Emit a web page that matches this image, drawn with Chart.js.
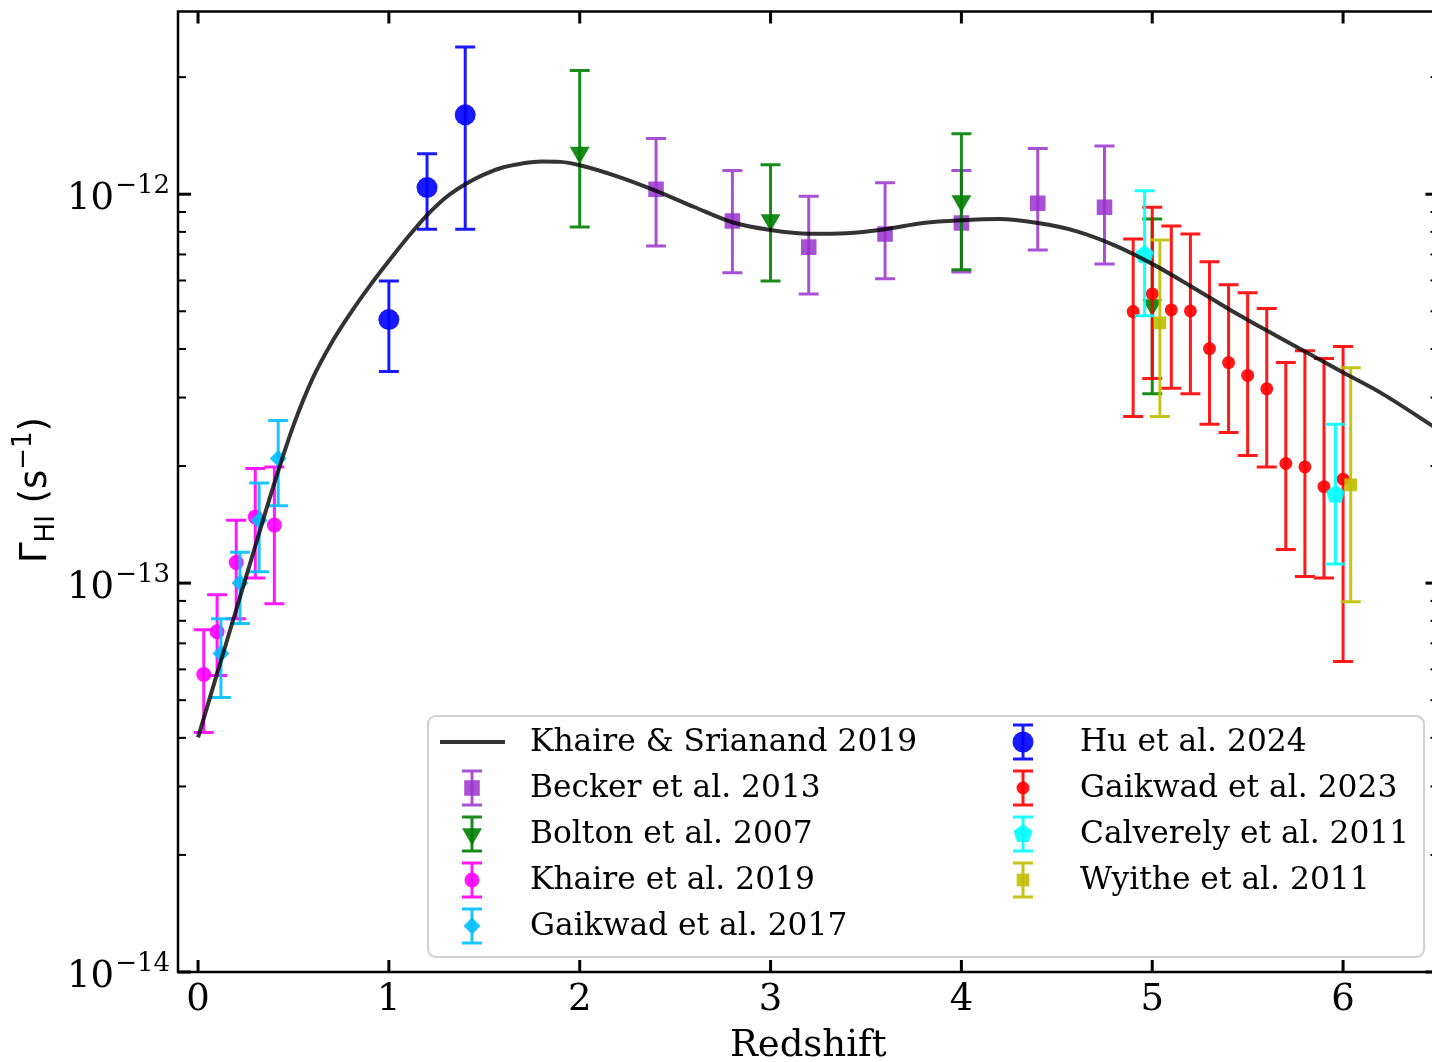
<!DOCTYPE html>
<html>
<head>
<meta charset="utf-8">
<script src="https://cdn.jsdelivr.net/npm/chart.js@4.4.1/dist/chart.umd.min.js"></script>
<style>
  html, body { margin: 0; padding: 0; background: #fff; overflow: hidden; }
  #wrap { width: 1432px; height: 1062px; overflow: hidden; }
</style>
</head>
<body>
<div id="wrap"><canvas id="myChart" width="1450" height="1062"></canvas></div>
<script>
// HI photo-ionization rate vs redshift: UVB model curve + measurements

// model curve (Khaire & Srianand 2019)
const modelZ = [0, 0.1, 0.2, 0.3, 0.4, 0.5, 0.6, 0.7, 0.8, 0.9, 1.0, 1.1, 1.2, 1.3, 1.4, 1.5, 1.6, 1.7, 1.8, 1.9, 2.0,
  2.2, 2.4, 2.6, 2.8, 3.0, 3.2, 3.4, 3.6, 3.8, 4.0, 4.2, 4.4, 4.6, 4.8, 5.0, 5.2, 5.4, 5.6, 5.8, 6.0, 6.2, 6.5];
const modelRate = [4.01e-14, 5.86e-14, 8.54e-14, 1.246e-13, 1.807e-13, 2.544e-13, 3.357e-13, 4.152e-13, 4.956e-13, 5.812e-13,
  6.735e-13, 7.76e-13, 8.835e-13, 9.824e-13, 1.061e-12, 1.125e-12, 1.173e-12, 1.200e-12, 1.214e-12, 1.211e-12, 1.187e-12,
  1.11e-12, 1.02e-12, 9.27e-13, 8.47e-13, 8.09e-13, 7.91e-13, 7.94e-13, 8.13e-13, 8.43e-13, 8.57e-13, 8.63e-13,
  8.43e-13, 8.04e-13, 7.40e-13, 6.62e-13, 5.81e-13, 5.07e-13, 4.46e-13, 3.94e-13, 3.48e-13, 3.08e-13, 2.48e-13];

const beckerZ = [2.4, 2.8, 3.2, 3.6, 4.0, 4.4, 4.75];
const beckerRate = [1.03e-12, 8.53e-13, 7.31e-13, 7.90e-13, 8.43e-13, 9.48e-13, 9.26e-13];
const beckerLo = [7.36e-13, 6.28e-13, 5.54e-13, 6.06e-13, 6.31e-13, 7.19e-13, 6.62e-13];
const beckerHi = [1.39e-12, 1.15e-12, 9.88e-13, 1.07e-12, 1.15e-12, 1.31e-12, 1.33e-12];

const boltonZ = [2.0, 3.0, 4.0, 5.0];
const boltonRate = [1.28e-12, 8.58e-13, 9.60e-13, 5.19e-13];
const boltonLo = [8.23e-13, 5.98e-13, 6.39e-13, 3.07e-13];
const boltonHi = [2.08e-12, 1.19e-12, 1.43e-12, 8.63e-13];

const khaireZ = [0.03, 0.1, 0.2, 0.3, 0.4];
const khaireRate = [5.82e-14, 7.50e-14, 1.13e-13, 1.48e-13, 1.41e-13];
const khaireLo = [4.13e-14, 5.79e-14, 8.10e-14, 1.03e-13, 8.85e-14];
const khaireHi = [7.59e-14, 9.33e-14, 1.45e-13, 1.97e-13, 1.99e-13];

const gaik17Z = [0.12, 0.22, 0.32, 0.42];
const gaik17Rate = [6.59e-14, 1.00e-13, 1.45e-13, 2.09e-13];
const gaik17Lo = [5.08e-14, 7.87e-14, 1.07e-13, 1.58e-13];
const gaik17Hi = [8.10e-14, 1.20e-13, 1.81e-13, 2.62e-13];

const huZ = [1.0, 1.2, 1.4];
const huRate = [4.76e-13, 1.04e-12, 1.60e-12];
const huLo = [3.50e-13, 8.13e-13, 8.13e-13];
const huHi = [5.98e-13, 1.27e-12, 2.39e-12];

const gaik23Z = [4.9, 5.0, 5.1, 5.2, 5.3, 5.4, 5.5, 5.6, 5.7, 5.8, 5.9, 6.0];
const gaik23Rate = [4.99e-13, 5.54e-13, 5.04e-13, 5.01e-13, 4.01e-13, 3.69e-13, 3.42e-13, 3.16e-13, 2.03e-13, 1.99e-13, 1.77e-13, 1.85e-13];
const gaik23Lo = [2.68e-13, 3.36e-13, 3.17e-13, 3.07e-13, 2.56e-13, 2.44e-13, 2.13e-13, 1.99e-13, 1.22e-13, 1.04e-13, 1.03e-13, 6.29e-14];
const gaik23Hi = [7.67e-13, 9.26e-13, 8.28e-13, 7.90e-13, 6.70e-13, 5.85e-13, 5.58e-13, 5.08e-13, 3.69e-13, 3.96e-13, 3.78e-13, 4.06e-13];

const calvZ = [4.96, 5.96];
const calvRate = [6.98e-13, 1.69e-13];
const calvLo = [4.87e-13, 1.12e-13];
const calvHi = [1.02e-12, 2.56e-13];

const wyitheZ = [5.04, 6.04];
const wyitheRate = [4.67e-13, 1.79e-13];
const wyitheLo = [2.68e-13, 8.96e-14];
const wyitheHi = [7.62e-13, 3.58e-13];

const xTicks = [0, 1, 2, 3, 4, 5, 6];
const yExponents = [-14, -13, -12];

const SERIF = '"DejaVu Serif", serif';
const SANS = '"DejaVu Sans", sans-serif';

// pentagon marker (not a built-in point style)
function makePentagon(r, color) {
  const c = document.createElement('canvas');
  c.width = c.height = Math.ceil(r * 2 + 2);
  const g = c.getContext('2d');
  g.fillStyle = color;
  g.beginPath();
  for (let k = 0; k < 5; k++) {
    const ang = -Math.PI / 2 + k * 2 * Math.PI / 5;
    const px = c.width / 2 + r * Math.cos(ang), py = c.height / 2 + r * Math.sin(ang);
    k ? g.lineTo(px, py) : g.moveTo(px, py);
  }
  g.closePath();
  g.fill();
  return c;
}

function pts(zs, vals) {
  return zs.map((z, i) => ({ x: z, y: vals[i] }));
}

function errSeries(label, zs, vals, lo, hi, color, style, radius, order, rotation) {
  return {
    type: 'scatter',
    label: label,
    data: pts(zs, vals),
    errLow: lo,
    errHigh: hi,
    backgroundColor: color,
    borderColor: color,
    borderWidth: 0,
    pointStyle: style,
    pointRadius: radius,
    pointRotation: rotation || 0,
    order: order
  };
}

const pentagon = makePentagon(10, 'rgba(0,255,255,0.9)');

const datasets = [
  {
    type: 'line',
    label: 'Khaire & Srianand 2019',
    data: pts(modelZ, modelRate),
    borderColor: 'rgba(0,0,0,0.8)',
    borderWidth: 4,
    pointRadius: 0,
    fill: false,
    cubicInterpolationMode: 'monotone',
    order: 0
  },
  errSeries('Becker et al. 2013', beckerZ, beckerRate, beckerLo, beckerHi, 'rgba(153,50,204,0.85)', 'rect', 11, 8),
  errSeries('Bolton et al. 2007', boltonZ, boltonRate, boltonLo, boltonHi, 'rgba(0,128,0,0.9)', 'triangle', 11.5, 7, 180),
  errSeries('Khaire et al. 2019', khaireZ, khaireRate, khaireLo, khaireHi, 'rgba(255,0,255,0.9)', 'circle', 7.5, 6),
  errSeries('Gaikwad et al. 2017', gaik17Z, gaik17Rate, gaik17Lo, gaik17Hi, 'rgba(0,191,255,0.9)', 'rectRot', 8.5, 5),
  errSeries('Hu et al. 2024', huZ, huRate, huLo, huHi, 'rgba(0,0,255,0.9)', 'circle', 10.5, 4),
  errSeries('Gaikwad et al. 2023', gaik23Z, gaik23Rate, gaik23Lo, gaik23Hi, 'rgba(255,0,0,0.9)', 'circle', 6.5, 3),
  errSeries('Calverely et al. 2011', calvZ, calvRate, calvLo, calvHi, 'rgba(0,255,255,0.9)', pentagon, 10, 2),
  errSeries('Wyithe et al. 2011', wyitheZ, wyitheRate, wyitheLo, wyitheHi, 'rgba(191,191,0,0.9)', 'rect', 9, 1)
];

// vertical error bars with caps, drawn just under each dataset's markers
const errorBars = {
  id: 'errorBars',
  beforeDatasetDraw(chart, args) {
    const ds = chart.data.datasets[args.index];
    if (!ds.errLow) return;
    const { ctx, chartArea: a } = chart;
    const xs = args.meta.xScale, ys = args.meta.yScale;
    ctx.save();
    ctx.beginPath();
    ctx.rect(a.left, a.top, a.right - a.left, a.bottom - a.top);
    ctx.clip();
    ctx.strokeStyle = ds.borderColor;
    ctx.lineWidth = 3;
    ctx.beginPath();
    ds.data.forEach((p, i) => {
      const px = xs.getPixelForValue(p.x);
      const top = ys.getPixelForValue(ds.errHigh[i]);
      const bot = ys.getPixelForValue(ds.errLow[i]);
      ctx.moveTo(px, top); ctx.lineTo(px, bot);
      ctx.moveTo(px - 10, top); ctx.lineTo(px + 10, top);
      ctx.moveTo(px - 10, bot); ctx.lineTo(px + 10, bot);
    });
    ctx.stroke();
    ctx.restore();
  }
};

// box, inward ticks, tick labels and axis titles
const frame = {
  id: 'frame',
  afterDatasetsDraw(chart) {
    const { ctx, chartArea: a, scales: { x, y } } = chart;
    const seg = (x1, y1, x2, y2) => { ctx.beginPath(); ctx.moveTo(x1, y1); ctx.lineTo(x2, y2); ctx.stroke(); };
    ctx.save();
    ctx.strokeStyle = '#000';

    ctx.lineWidth = 3;
    xTicks.forEach(v => {
      const px = x.getPixelForValue(v);
      seg(px, a.bottom, px, a.bottom - 12);
      seg(px, a.top, px, a.top + 12);
    });
    yExponents.forEach(e => {
      const py = y.getPixelForValue(Math.pow(10, e));
      seg(a.left, py, a.left + 13, py);
      seg(a.right, py, a.right - 13, py);
    });
    ctx.lineWidth = 2;
    yExponents.forEach(e => {
      for (let m = 2; m <= 9; m++) {
        const v = m * Math.pow(10, e);
        if (v > y.max) break;
        const py = y.getPixelForValue(v);
        seg(a.left, py, a.left + 8, py);
        seg(a.right, py, a.right - 8, py);
      }
    });

    ctx.lineWidth = 2.5;
    ctx.strokeRect(a.left, a.top, a.right - a.left, a.bottom - a.top);

    // tick labels
    ctx.fillStyle = '#000';
    ctx.font = '37px ' + SERIF;
    ctx.textAlign = 'center';
    ctx.textBaseline = 'alphabetic';
    xTicks.forEach(v => ctx.fillText(String(v), x.getPixelForValue(v), 1010));

    yExponents.forEach(e => {
      const py = y.getPixelForValue(Math.pow(10, e));
      const sup = '\u2212' + Math.abs(e);
      ctx.font = '26px ' + SERIF;
      const sw = ctx.measureText(sup).width;
      ctx.textAlign = 'right';
      ctx.fillText(sup, 170, py - 1);
      ctx.font = '37px ' + SERIF;
      ctx.fillText('10', 170 - sw - 1, py + 15);
    });

    // x title
    ctx.font = '37px ' + SERIF;
    ctx.textAlign = 'center';
    ctx.fillText('Redshift', (a.left + a.right) / 2, 1056);

    // y title: Γ_HI (s^-1)
    ctx.translate(46, 490);
    ctx.rotate(-Math.PI / 2);
    const parts = [
      { t: '\u0393', f: '37px ' + SANS, dy: 0 },
      { t: 'HI', f: '26px ' + SANS, dy: 8 },
      { t: ' (s', f: '37px ' + SANS, dy: 0 },
      { t: '\u22121', f: '26px ' + SANS, dy: -15 },
      { t: ')', f: '37px ' + SANS, dy: 0 }
    ];
    let total = 0;
    parts.forEach(p => { ctx.font = p.f; p.w = ctx.measureText(p.t).width; total += p.w; });
    let cx = -total / 2;
    ctx.textAlign = 'left';
    parts.forEach(p => { ctx.font = p.f; ctx.fillText(p.t, cx, p.dy); cx += p.w; });
    ctx.restore();
  }
};

function drawMarker(ctx, style, x, y, r, rotation) {
  ctx.beginPath();
  if (style instanceof HTMLCanvasElement) {
    ctx.drawImage(style, x - style.width / 2, y - style.height / 2);
    return;
  }
  if (style === 'circle') {
    ctx.arc(x, y, r, 0, Math.PI * 2);
  } else if (style === 'rect') {
    const s = r * Math.SQRT1_2;
    ctx.rect(x - s, y - s, 2 * s, 2 * s);
  } else if (style === 'rectRot') {
    ctx.moveTo(x, y - r); ctx.lineTo(x + r, y); ctx.lineTo(x, y + r); ctx.lineTo(x - r, y);
  } else if (style === 'triangle') {
    const rad = (rotation || 0) * Math.PI / 180;
    for (let k = 0; k < 3; k++) {
      const ang = rad + k * 2 * Math.PI / 3;
      const px = x + Math.sin(ang) * r, py = y - Math.cos(ang) * r;
      k ? ctx.lineTo(px, py) : ctx.moveTo(px, py);
    }
  }
  ctx.closePath();
  ctx.fill();
}

// two-column legend with error-bar handles
const legendBox = {
  id: 'legendBox',
  afterDraw(chart) {
    const { ctx } = chart;
    const dsets = chart.data.datasets;
    const box = { x: 428, y: 716, w: 996, h: 241, r: 8 };
    const rows = [742, 788, 834, 880, 926];
    const cols = [{ mark: 472, text: 530 }, { mark: 1023, text: 1080 }];
    ctx.save();
    ctx.beginPath();
    ctx.roundRect(box.x, box.y, box.w, box.h, box.r);
    ctx.fillStyle = 'rgba(255,255,255,0.8)';
    ctx.fill();
    ctx.strokeStyle = '#d0d0d0';
    ctx.lineWidth = 2;
    ctx.stroke();

    dsets.forEach((ds, i) => {
      const col = cols[i < 5 ? 0 : 1];
      const yy = rows[i < 5 ? i : i - 5];
      if (!ds.errLow) {
        ctx.strokeStyle = ds.borderColor;
        ctx.lineWidth = 4;
        ctx.beginPath();
        ctx.moveTo(col.mark - 32, yy); ctx.lineTo(col.mark + 33, yy);
        ctx.stroke();
      } else {
        ctx.strokeStyle = ds.borderColor;
        ctx.lineWidth = 3;
        ctx.beginPath();
        ctx.moveTo(col.mark, yy - 17); ctx.lineTo(col.mark, yy + 17);
        ctx.moveTo(col.mark - 10, yy - 17); ctx.lineTo(col.mark + 10, yy - 17);
        ctx.moveTo(col.mark - 10, yy + 17); ctx.lineTo(col.mark + 10, yy + 17);
        ctx.stroke();
        ctx.fillStyle = ds.backgroundColor;
        drawMarker(ctx, ds.pointStyle, col.mark, yy, ds.pointRadius, ds.pointRotation);
      }
      ctx.fillStyle = '#000';
      ctx.font = '31.3px ' + SERIF;
      ctx.textAlign = 'left';
      ctx.textBaseline = 'middle';
      ctx.fillText(ds.label, col.text, yy + 1);
    });
    ctx.restore();
  }
};

const ctx = document.getElementById('myChart');

new Chart(ctx, {
  type: 'scatter',
  data: { datasets: datasets },
  options: {
    responsive: false,
    animation: false,
    layout: { padding: { left: 178, top: 8, right: 9, bottom: 90 } },
    plugins: { legend: { display: false }, tooltip: { enabled: false } },
    scales: {
      x: { type: 'linear', display: false, min: -0.105, max: 6.5 },
      y: { type: 'logarithmic', display: false, min: 1e-14, max: 2.95e-12 }
    }
  },
  plugins: [errorBars, frame, legendBox]
});
</script>
</body>
</html>
